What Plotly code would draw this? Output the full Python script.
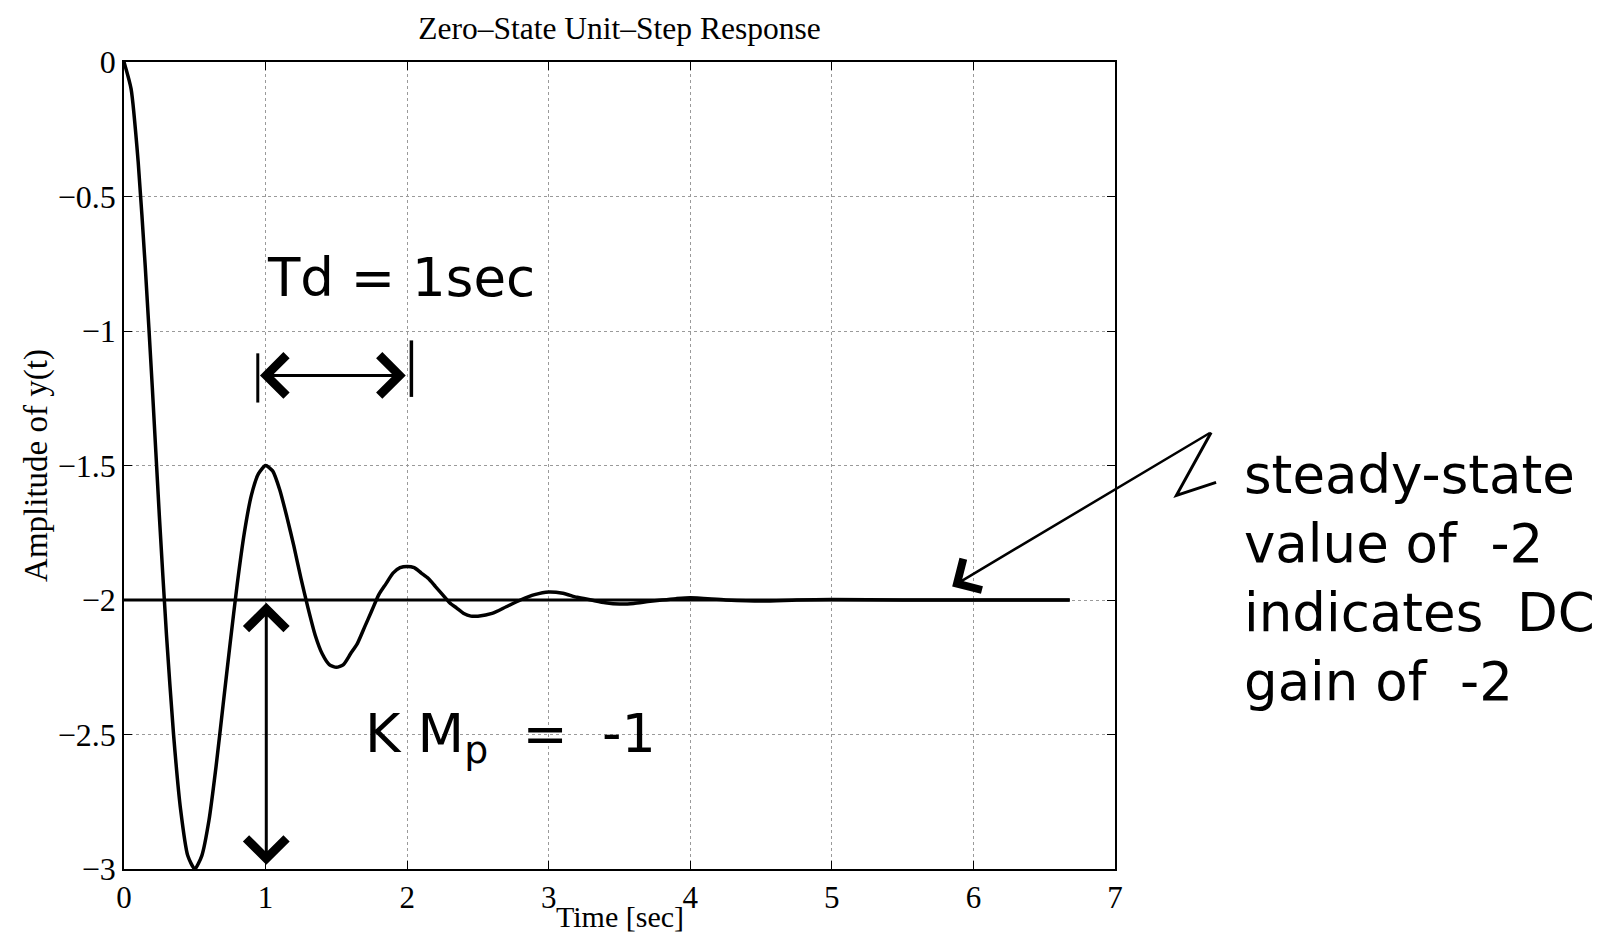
import plotly.graph_objects as go

# ---- data ----
time_sec = [0.00, 0.05, 0.10, 0.15, 0.20, 0.25, 0.30, 0.35, 0.40, 0.45,
            0.50, 0.55, 0.60, 0.65, 0.70, 0.75, 0.80, 0.85, 0.90, 0.95,
            1.00, 1.05, 1.10, 1.15, 1.20, 1.25, 1.30, 1.35, 1.40, 1.45,
            1.50, 1.55, 1.60, 1.65, 1.70, 1.75, 1.80, 1.85, 1.90, 1.95,
            2.00, 2.05, 2.10, 2.15, 2.20, 2.25, 2.30, 2.35, 2.40, 2.45,
            2.50, 2.60, 2.70, 2.80, 2.90, 3.00, 3.10, 3.20, 3.30, 3.40,
            3.50, 3.60, 3.70, 3.80, 3.90, 4.00, 4.25, 4.50, 4.75, 5.00,
            5.50, 6.00, 6.68]
amplitude = [0.00, -0.10, -0.37, -0.76, -1.21, -1.69, -2.13, -2.50, -2.78, -2.95,
             -3.00, -2.95, -2.82, -2.62, -2.39, -2.16, -1.94, -1.75, -1.61, -1.53,
             -1.50, -1.52, -1.59, -1.69, -1.80, -1.92, -2.03, -2.13, -2.20, -2.24,
             -2.25, -2.24, -2.20, -2.16, -2.10, -2.04, -1.98, -1.94, -1.90, -1.88,
             -1.875, -1.88, -1.90, -1.92, -1.95, -1.98, -2.01, -2.03, -2.05, -2.06,
             -2.06, -2.05, -2.025, -2.00, -1.98, -1.97, -1.975, -1.99, -2.00, -2.01,
             -2.015, -2.013, -2.006, -2.00, -1.995, -1.992, -2.00, -2.004, -2.00, -1.998,
             -2.00, -2.00, -2.00]

steady_t = [0.0, 6.68]
steady_y = [-2.0, -2.0]

x_ticks = [0, 1, 2, 3, 4, 5, 6, 7]
y_ticks = [-3, -2.5, -2, -1.5, -1, -0.5, 0]

title_text = "Zero–State Unit–Step Response"
x_title = "Time [sec]"
y_title = "Amplitude of y(t)"
note_period = "Td = 1sec"
note_overshoot = "K M<sub>p</sub>  =  -1"
note_steady = "steady-state<br>value of  -2<br>indicates  DC<br>gain of  -2"

serif = "Liberation Serif, Times New Roman, serif"
hand = "DejaVu Sans, sans-serif"

fig = go.Figure()
fig.add_trace(go.Scatter(x=steady_t, y=steady_y, mode="lines",
                         line=dict(color="black", width=3.2), hoverinfo="skip"))
fig.add_trace(go.Scatter(x=time_sec, y=amplitude, mode="lines",
                         line=dict(color="black", width=3.5, shape="spline", smoothing=0.6)))

axis_common = dict(
    showline=True, linecolor="black", linewidth=1.5, mirror="ticks",
    ticks="inside", ticklen=8, tickwidth=1.2, tickcolor="black",
    showgrid=True, gridcolor="#9a9a9a", griddash="dot", gridwidth=1.2,
    zeroline=False, automargin=False,
)

fig.update_xaxes(range=[0, 7], tickvals=x_ticks,
                 tickfont=dict(family=serif, size=31, color="black"),
                 **axis_common)
fig.update_yaxes(range=[-3, 0], tickvals=y_ticks,
                 tickfont=dict(family=serif, size=32, color="black"),
                 title=dict(text=y_title, font=dict(family=serif, size=33, color="black"), standoff=0),
                 **axis_common)

annotations = [
    # x-axis title
    dict(x=0.5, y=-0.0586, xref="paper", yref="paper", text=x_title, showarrow=False,
         xanchor="center", yanchor="middle",
         font=dict(family=serif, size=30, color="black")),
    # Td double arrow
    dict(x=1.99, y=-1.165, ax=0.95, ay=-1.165, xref="x", yref="y", axref="x", ayref="y",
         text="", showarrow=True, arrowside="end+start", arrowhead=4, startarrowhead=4,
         arrowsize=2.6, startarrowsize=2.6, arrowwidth=3, arrowcolor="black"),
    # K Mp vertical double arrow
    dict(x=1.005, y=-2.01, ax=1.005, ay=-2.99, xref="x", yref="y", axref="x", ayref="y",
         text="", showarrow=True, arrowside="end+start", arrowhead=4, startarrowhead=4,
         arrowsize=2.6, startarrowsize=2.6, arrowwidth=3, arrowcolor="black"),
    # steady-state pointer
    dict(x=5.85, y=-1.95, ax=7.68, ay=-1.376, xref="x", yref="y", axref="x", ayref="y",
         text="", showarrow=True, arrowhead=4, arrowsize=2.8, arrowwidth=2.5, arrowcolor="black"),
    dict(x=1.96, y=-0.80, xref="x", yref="y", text=note_period, showarrow=False,
         font=dict(family=hand, size=53, color="black")),
    dict(x=2.73, y=-2.51, xref="x", yref="y", text=note_overshoot, showarrow=False,
         font=dict(family=hand, size=54, color="black")),
    dict(x=1.128, y=0.36, xref="paper", yref="paper", text=note_steady, showarrow=False,
         xanchor="left", yanchor="middle", align="left",
         font=dict(family=hand, size=53, color="black")),
]

shapes = [
    dict(type="line", xref="x", yref="y", x0=2.03, x1=2.03, y0=-1.035, y1=-1.245,
         line=dict(color="black", width=3.5)),
    dict(type="line", xref="x", yref="y", x0=0.945, x1=0.945, y0=-1.083, y1=-1.266,
         line=dict(color="black", width=3)),
    dict(type="path", xref="paper", yref="paper",
         path="M 1.097,0.541 L 1.062,0.463 L 1.102,0.479",
         line=dict(color="black", width=3)),
]

# The page body has an 8px default margin, so the figure is sized to fit inside it.
fig.update_layout(
    width=1596, height=926, autosize=False,
    margin=dict(l=116, r=489, t=54, b=65),
    paper_bgcolor="white", plot_bgcolor="white",
    showlegend=False,
    title=dict(text=title_text, x=0.5, xref="paper", xanchor="center",
               y=1 - 20 / 926, yref="container", yanchor="middle",
               font=dict(family=serif, size=31.5, color="black")),
    annotations=annotations, shapes=shapes,
)

fig.write_html("out.html")
